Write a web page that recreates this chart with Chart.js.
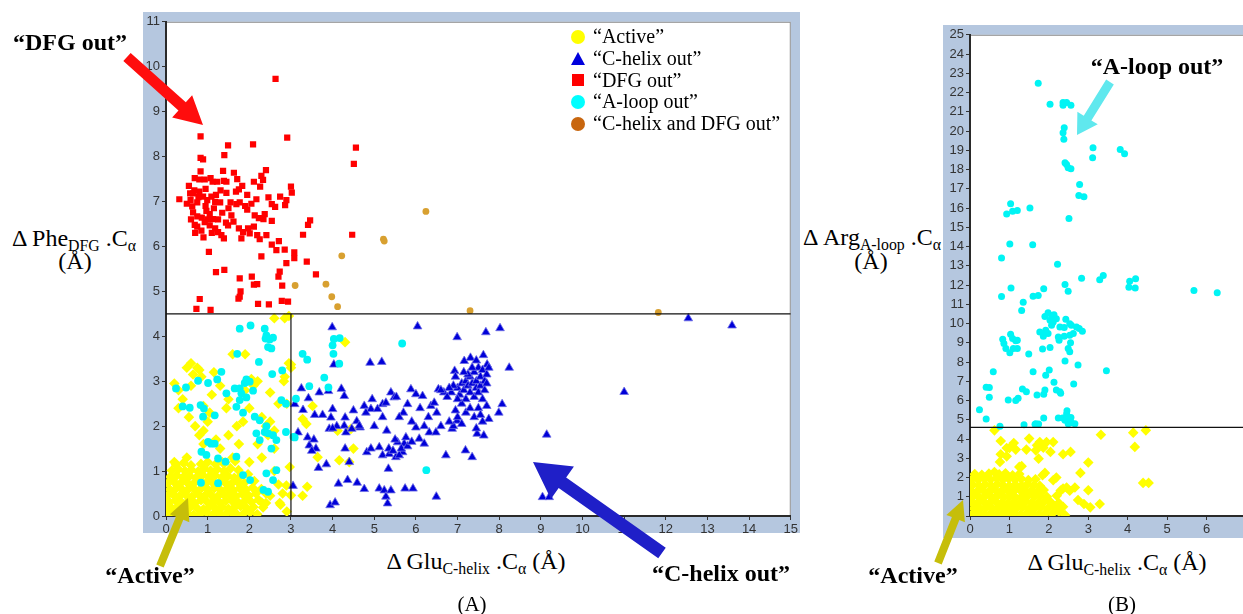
<!DOCTYPE html>
<html>
<head>
<meta charset="utf-8">
<script src="https://cdn.jsdelivr.net/npm/chart.js@4"></script>
<style>
html,body{margin:0;padding:0;background:#fff;}
body{width:1243px;height:614px;overflow:hidden;position:relative;font-family:"Liberation Serif","Times New Roman",serif;color:#000;}
.frame{position:absolute;background:#b5c7df;}
.frame canvas{position:absolute;left:0;top:0;}
.txt{position:absolute;white-space:nowrap;line-height:1;transform:translate(-50%,-50%);}
.ann{font-weight:bold;font-size:24px;}
.ttl{font-size:24px;}
.ttl sub{font-size:0.66em;vertical-align:-0.32em;line-height:0;}
.cap{font-size:21px;}
#legend{position:absolute;left:570px;top:26px;font-size:20px;}
#legend .row{height:21.7px;display:flex;align-items:center;}
#legend .mk{width:16px;height:16px;position:relative;margin-right:7px;}
#legend .mk i{position:absolute;display:block;}
#overlay{position:absolute;left:0;top:0;pointer-events:none;}
</style>
</head>
<body>

<div class="frame" id="frameA" style="left:143px;top:12px;width:657px;height:521px;">
  <canvas id="chartA" width="657" height="521"></canvas>
</div>
<div class="frame" id="frameB" style="left:943px;top:25px;width:310px;height:513px;">
  <canvas id="chartB" width="310" height="513"></canvas>
</div>

<div id="legend">
  <div class="row"><div class="mk"><i style="left:1px;top:1px;width:14px;height:14px;border-radius:50%;background:#ffff00"></i></div>“Active”</div>
  <div class="row"><div class="mk"><i style="left:1px;top:1px;width:0;height:0;border-left:7px solid transparent;border-right:7px solid transparent;border-bottom:13px solid #0000dd"></i></div>“C-helix out”</div>
  <div class="row"><div class="mk"><i style="left:2px;top:2px;width:12px;height:12px;background:#ff0000"></i></div>“DFG out”</div>
  <div class="row"><div class="mk"><i style="left:1px;top:1px;width:14px;height:14px;border-radius:50%;background:#00ffff"></i></div>“A-loop out”</div>
  <div class="row"><div class="mk"><i style="left:1px;top:1px;width:14px;height:14px;border-radius:50%;background:#c8660f"></i></div>“C-helix and DFG out”</div>
</div>

<div class="txt ttl" style="left:74px;top:238px;">Δ Phe<sub>DFG</sub> .C<sub>α</sub></div>
<div class="txt ttl" style="left:75px;top:261px;">(Å)</div>
<div class="txt ttl" style="left:476px;top:561px;">Δ Glu<sub>C-helix</sub> .C<sub>α</sub> (Å)</div>
<div class="txt ttl" style="left:872px;top:237px;">Δ Arg<sub>A-loop</sub> .C<sub>α</sub></div>
<div class="txt ttl" style="left:871px;top:261px;">(Å)</div>
<div class="txt ttl" style="left:1117px;top:562px;">Δ Glu<sub>C-helix</sub> .C<sub>α</sub> (Å)</div>

<canvas id="overlay" width="1243" height="614"></canvas>

<div class="txt ann" style="left:70px;top:42px;">“DFG out”</div>
<div class="txt ann" style="left:150px;top:575px;">“Active”</div>
<div class="txt ann" style="left:721px;top:573px;">“C-helix out”</div>
<div class="txt ann" style="left:1157px;top:66px;">“A-loop out”</div>
<div class="txt ann" style="left:913px;top:575px;">“Active”</div>
<div class="txt cap" style="left:472px;top:604px;">(A)</div>
<div class="txt cap" style="left:1122px;top:604px;">(B)</div>

<script>
// ---- Panel A: ΔPhe(DFG).Cα vs ΔGlu(C-helix).Cα ----
const activeA = [
  [0.06,0.04],[0.21,0.07],[0.37,0.03],[0.52,0.06],[0.66,0.02],[0.83,0.05],[0.97,0.08],[1.12,0.03],[1.28,0.06],[1.43,0.04],[1.58,0.07],[1.71,0.03],[1.86,0.05],[2.02,0.08],[2.19,0.04],
  [0.02,0.19],[0.14,0.17],[0.29,0.21],[0.45,0.16],[0.59,0.20],[0.74,0.18],[0.90,0.15],[1.05,0.21],[1.19,0.17],[1.35,0.20],[1.50,0.16],[1.64,0.19],[1.79,0.22],[1.94,0.17],[2.10,0.20],[2.33,0.19],
  [0.08,0.31],[0.23,0.34],[0.38,0.30],[0.53,0.33],[0.69,0.29],[0.84,0.35],[0.99,0.31],[1.14,0.33],[1.29,0.30],[1.44,0.34],[1.60,0.32],[1.75,0.29],[1.90,0.34],[2.05,0.31],[2.22,0.36],[2.40,0.29],
  [0.03,0.45],[0.17,0.48],[0.32,0.44],[0.48,0.47],[0.62,0.43],[0.77,0.49],[0.93,0.45],[1.08,0.47],[1.23,0.43],[1.38,0.48],[1.54,0.46],[1.68,0.44],[1.83,0.49],[1.99,0.45],[2.16,0.50],[2.50,0.45],
  [0.09,0.59],[0.25,0.62],[0.40,0.58],[0.55,0.61],[0.71,0.57],[0.86,0.63],[1.01,0.59],[1.16,0.62],[1.31,0.58],[1.47,0.61],[1.62,0.57],[1.77,0.62],[1.92,0.59],[2.08,0.63],[2.29,0.60],
  [0.04,0.73],[0.19,0.76],[0.34,0.72],[0.50,0.75],[0.65,0.71],[0.80,0.77],[0.95,0.73],[1.10,0.76],[1.26,0.72],[1.41,0.75],[1.56,0.71],[1.72,0.76],[1.88,0.74],[2.12,0.78],
  [0.10,0.87],[0.26,0.90],[0.41,0.86],[0.57,0.89],[0.72,0.85],[0.88,0.91],[1.03,0.87],[1.18,0.90],[1.34,0.86],[1.49,0.89],[1.64,0.85],[1.80,0.90],[1.97,0.93],
  [0.14,1.01],[0.30,1.04],[0.46,1.00],[0.61,1.03],[0.77,0.99],[0.92,1.05],[1.07,1.01],[1.23,1.04],[1.39,1.00],[1.55,1.06],[1.74,1.02],
  [0.24,1.14],[0.42,1.18],[0.60,1.13],[0.84,1.16],[1.00,1.20],[1.19,1.15],[1.42,1.19],[1.66,1.22],
  [0.20,2.95],[0.30,2.80],[0.50,3.30],[0.60,3.40],[0.65,3.15],[0.75,3.30],[0.80,3.25],[0.85,3.10],[0.60,2.90],[0.40,2.60],[0.30,2.40],[0.55,2.20],
  [0.70,2.00],[0.90,1.90],[1.00,2.10],[1.05,2.30],[1.10,2.70],[1.15,3.20],[1.30,2.90],[1.45,2.40],[1.50,2.60],[1.60,3.60],[1.20,1.70],[0.90,1.60],
  [0.80,1.80],[1.30,1.50],[1.50,1.80],[1.60,1.30],[1.75,1.60],[1.85,2.10],[2.00,2.40],[2.10,2.90],[2.20,3.00],[2.30,2.20],[2.40,2.00],[2.45,1.80],
  [2.50,2.10],[2.20,1.60],[2.00,1.20],[2.30,1.30],[2.60,1.50],[2.60,1.00],[2.70,0.70],[2.40,0.50],[2.30,0.30],[2.80,0.50],[2.90,0.10],[2.75,0.25],
  [2.60,1.90],[2.70,2.50],[2.90,2.50],[2.85,3.10],[2.95,3.40],[3.00,3.30],[1.90,3.60],[2.60,4.40],[2.85,4.40],[2.95,4.45],[0.90,2.45],[1.90,2.80],
  [2.05,3.05],[2.50,2.75],[1.70,2.00],[1.35,1.20],[0.50,1.30],[0.20,1.20],[2.83,3.00],[3.52,2.45],[3.28,2.16],[3.37,2.05],[4.12,1.90],[4.44,1.94],
  [3.64,1.31],[4.16,1.24],[4.40,1.20],[4.50,1.50],[2.97,1.09],[2.89,0.68],[3.00,0.46],[3.28,0.45],[3.39,0.65],[2.73,0.29],[4.30,3.87],[3.00,3.37]
];
const chelixOutA = [
  [3.99,4.20],[6.04,4.22],[8.02,4.18],[6.99,3.98],[7.68,4.09],[4.03,3.37],[4.90,3.41],[5.18,3.43],[6.93,3.23],[7.16,3.45],[7.31,3.52],[7.45,3.46],[7.62,3.58],[7.71,3.37],[8.24,3.30],
  [3.25,2.84],[3.42,2.62],[3.68,2.75],[3.90,2.78],[4.21,2.83],[4.28,2.67],
  [3.09,2.49],[3.29,2.36],[3.57,2.25],[3.76,2.25],[3.96,2.19],[4.00,2.38],[4.30,2.19],[4.58,2.11],[4.66,1.97],[4.76,2.45],[4.92,2.38],[5.08,2.38],[5.20,2.49],[5.28,2.52],[5.40,2.75],
  [5.48,2.64],[5.53,2.65],[5.80,2.49],[5.88,2.82],[6.00,2.71],[6.16,2.67],[6.36,2.45],[6.44,2.52],[6.54,2.82],[6.67,2.75],
  [3.17,1.86],[3.40,1.75],[3.44,1.57],[3.66,1.07],[3.92,1.94],[4.28,2.01],[4.32,1.86],[4.46,1.94],[4.64,2.01],[4.82,1.42],[4.92,1.50],[5.12,1.53],[5.20,1.35],[5.36,1.38],
  [5.52,1.31],[5.56,1.64],[5.68,1.42],[5.72,1.61],[5.76,1.75],[6.00,1.97],[6.08,1.72],[6.20,1.61],[6.32,1.86],[6.48,1.86],[6.72,1.35],[6.87,1.94],[6.99,2.12],[7.19,1.46],
  [7.35,1.31],[7.47,1.83],[7.63,1.79],[7.75,2.16],[7.99,2.30],[8.07,2.49],
  [3.05,0.67],[4.14,0.72],[4.36,0.80],[4.59,0.74],[4.76,0.60],[5.12,0.61],[5.24,0.57],[5.28,0.43],[5.32,0.28],[5.40,0.57],[5.74,0.61],[5.93,0.61],[6.49,0.43],[3.94,0.24],[4.06,0.30],[5.34,1.05],
  [9.14,1.81],[9.04,0.42],[9.20,0.42],[11.00,2.76],[12.54,4.40],[13.59,4.24],
  [7.00,2.85],[7.05,2.70],[7.10,2.95],[7.15,2.80],[7.20,3.00],[7.20,2.60],[7.25,2.90],[7.30,3.10],[7.30,2.75],[7.35,2.95],[7.40,3.20],[7.40,2.65],[7.45,3.00],[7.45,2.85],
  [7.50,3.30],[7.50,2.75],[7.55,3.10],[7.55,2.90],[7.60,3.25],[7.60,2.60],[7.65,3.00],[7.65,2.80],[7.70,3.15],[7.70,2.95],[7.75,3.30],[7.35,3.30],[7.25,3.15],[6.90,2.90],
  [6.85,2.75],[6.80,2.85],[7.10,2.50],[7.20,2.30],[7.30,2.40],[7.00,2.20],[6.95,2.35],[7.40,2.20],[7.50,2.40],[7.60,2.10],[7.10,2.05],[6.90,2.00],[7.45,1.95],[7.55,2.25],
  [7.70,2.45],[7.00,2.60],[6.75,2.65],[6.60,2.80],[6.95,3.10],[7.15,3.20],
  [3.55,1.70],[3.60,1.50],[3.50,1.45],[4.10,2.00],[4.50,2.35],[4.80,2.30],[5.00,2.00],[5.30,1.90],[5.50,1.70],[5.70,2.30],[5.90,2.10],[6.10,2.40],[6.30,2.20],[6.50,2.30],
  [6.60,2.00],[6.80,2.10],[5.20,2.20],[4.95,2.60],[5.60,2.20],[6.20,2.00],[5.35,1.50],[5.45,1.45],[5.60,1.35],[5.65,1.50],[5.80,1.55],[5.90,1.65],[4.30,1.50],[3.85,1.15],
  [4.00,1.95],[4.40,1.20]
];
const dfgOutA = [
  [2.63,9.73],[0.83,8.45],[2.91,8.42],[1.49,8.25],[2.09,8.27],[1.40,8.03],[0.83,7.97],[0.89,7.94],[4.56,8.20],[4.51,7.84],[0.83,7.67],[1.37,7.68],[1.63,7.64],[2.40,7.70],
  [2.29,7.57],[2.33,7.48],[2.11,7.44],[2.26,7.33],[3.00,7.33],[3.02,7.20],[1.83,7.35],[1.75,7.27],[1.68,7.22],[1.45,7.19],[1.31,7.25],[1.12,7.44],[1.23,7.44],[0.69,7.52],
  [0.80,7.49],[0.93,7.49],[1.07,7.52],[1.39,7.46],[1.45,7.44],[1.71,7.50],[0.68,7.25],[0.80,7.22],[0.65,7.18],[0.32,7.05],[0.59,7.03],[0.75,6.98],[0.63,6.89],[0.89,7.11],
  [0.99,7.03],[1.09,7.11],[1.18,6.99],[1.30,6.98],[1.55,6.98],[1.69,6.94],[1.77,6.98],[1.90,6.90],[1.95,6.82],[2.17,7.05],[2.46,7.09],[2.74,7.11],[2.89,7.03],[2.86,6.92],
  [2.54,6.94],[2.62,6.88],[0.65,6.76],[0.75,6.67],[0.86,6.64],[0.69,6.48],[0.75,6.44],[0.97,6.79],[1.05,6.72],[1.13,6.61],[0.93,6.54],[1.05,6.47],[1.18,6.40],[1.25,6.32],
  [1.33,6.25],[1.39,6.18],[1.44,6.53],[1.49,6.47],[1.57,6.69],[1.75,6.40],[1.85,6.32],[1.97,6.40],[1.81,6.18],[2.01,6.29],[2.11,6.44],[2.19,6.25],[2.25,6.16],[2.13,6.69],
  [2.23,6.63],[2.37,6.72],[2.34,6.61],[2.54,6.57],[2.41,6.25],[2.54,6.04],[2.71,6.12],[2.65,5.92],[2.85,5.93],[2.29,5.78],[3.08,5.87],[3.08,5.74],[2.89,5.63],[3.38,5.66],
  [3.29,6.26],[3.41,6.48],[3.46,6.58],[3.60,5.38],[4.47,6.26],[2.73,5.44],[2.70,5.33],[2.79,5.13],[1.03,5.88],[1.20,5.43],[1.40,5.48],[1.77,5.29],[2.06,5.33],[2.11,5.15],
  [2.19,5.16],[1.79,5.00],[1.77,4.88],[1.74,4.84],[0.81,4.83],[0.73,4.61],[1.07,4.59],[2.21,4.72],[2.47,4.71],[2.78,4.79],[2.93,4.77],
  [0.55,7.35],[0.60,6.60],[0.70,6.30],[0.85,6.35],[0.95,6.90],[1.15,6.85],[1.20,7.15],[1.00,6.60],[0.78,7.10],[1.35,6.75],[1.50,6.85],[1.62,6.55],[1.10,6.30],[0.90,6.20],
  [1.25,6.60],[1.95,7.15],[2.05,6.95],[0.50,6.95],[0.58,7.18],[0.95,7.28]
];
const aloopOutA = [
  [2.03,4.24],[1.77,4.17],[2.37,4.17],[2.41,4.02],[2.39,3.95],[2.45,3.76],[2.53,3.73],[2.49,3.93],[2.57,3.97],[1.71,3.61],[2.23,3.43],[2.79,3.24],[2.55,3.16],[1.33,3.21],
  [1.23,3.04],[1.01,2.96],[0.77,3.01],[0.24,2.84],[0.48,2.86],[0.40,2.44],[0.57,2.41],[0.83,2.47],[0.89,2.21],[1.17,2.24],[0.91,2.39],[1.45,2.73],[1.65,2.84],[1.77,2.84],
  [1.81,2.73],[1.89,2.96],[1.93,3.04],[2.01,2.99],[2.09,2.79],[1.93,2.64],[1.77,2.58],[1.69,2.43],[1.85,2.30],[2.13,2.21],[2.25,2.13],[2.41,2.00],[2.37,1.87],[2.45,1.84],
  [2.57,1.80],[2.65,1.69],[2.53,1.50],[2.25,1.69],[2.17,1.84],[1.08,1.61],[1.17,1.61],[0.85,1.43],[0.97,1.36],[1.25,1.28],[1.43,1.21],[1.85,0.91],[2.02,0.80],[2.34,0.58],
  [2.45,0.54],[2.57,0.80],[2.65,1.02],[2.41,0.95],[1.25,0.73],[0.84,0.74],[1.69,1.32],[1.01,1.65],[2.77,2.58],[2.88,2.50],[2.88,1.87],[3.06,1.76],[3.12,2.61],[3.28,3.61],
  [3.39,3.48],[3.80,3.08],[3.90,2.86],[4.00,3.80],[4.02,3.61],[4.03,3.94],[4.17,3.96],[4.16,3.39],[5.67,3.84],[6.25,1.02],[3.44,2.89],[3.09,1.75]
];
const chelixDfgOutA = [
  [3.10,5.13],[3.84,5.16],[3.98,4.88],[4.12,4.66],[4.22,5.79],[5.22,6.16],[5.24,6.12],[6.24,6.78],[7.30,4.57],[11.82,4.53]
];
const cutPheA = 4.5;   // ΔPhe threshold (horizontal rule)
const cutGluA = 3;     // ΔGlu threshold (vertical rule below the ΔPhe cut)
const xTicksA = {min: 0, max: 15, step: 1};
const yTicksA = {min: 0, max: 11, step: 1};

// ---- Panel B: ΔArg(A-loop).Cα vs ΔGlu(C-helix).Cα ----
const activeB = [
  [0.05,0.10],[0.20,0.14],[0.36,0.08],[0.51,0.12],[0.66,0.06],[0.82,0.13],[0.97,0.09],[1.12,0.15],[1.28,0.07],[1.43,0.11],[1.58,0.14],[1.74,0.08],[1.90,0.12],[2.08,0.10],
  [0.10,0.42],[0.26,0.38],[0.41,0.45],[0.57,0.39],[0.72,0.43],[0.88,0.37],[1.03,0.44],[1.18,0.40],[1.34,0.46],[1.49,0.38],[1.65,0.42],[1.80,0.45],[1.97,0.39],[2.15,0.44],
  [0.04,0.72],[0.19,0.68],[0.34,0.74],[0.50,0.69],[0.65,0.75],[0.81,0.70],[0.96,0.66],[1.11,0.73],[1.27,0.69],[1.42,0.76],[1.57,0.70],[1.73,0.67],[1.88,0.74],[2.05,0.71],[2.25,0.68],
  [0.08,1.02],[0.24,0.97],[0.39,1.04],[0.55,0.99],[0.70,1.05],[0.86,0.98],[1.01,1.03],[1.16,0.96],[1.32,1.02],[1.47,1.06],[1.63,0.99],[1.78,1.04],[1.95,1.00],[2.20,1.05],
  [0.03,1.31],[0.18,1.27],[0.33,1.34],[0.49,1.29],[0.64,1.35],[0.79,1.28],[0.95,1.33],[1.10,1.27],[1.26,1.36],[1.41,1.30],[1.56,1.33],[1.72,1.28],[1.87,1.35],[2.30,1.32],
  [0.07,1.62],[0.23,1.57],[0.38,1.64],[0.53,1.58],[0.69,1.65],[0.84,1.60],[1.00,1.56],[1.15,1.63],[1.31,1.58],[1.46,1.66],[1.62,1.60],[1.77,1.57],
  [0.05,1.92],[0.21,1.88],[0.36,1.95],[0.52,1.90],[0.67,1.96],[0.83,1.89],[0.98,1.94],[1.14,1.88],[1.30,1.93],[1.48,1.87],[1.66,1.91],
  [0.12,2.18],[0.30,2.14],[0.48,2.20],[0.62,2.28],[0.74,2.16],[0.90,2.22],[1.08,2.12],[1.25,2.18],
  [0.62,4.45],[0.78,3.90],[0.93,3.53],[1.00,3.53],[1.11,3.79],[1.16,3.45],[0.78,3.21],[0.93,3.10],[0.76,2.81],[1.50,4.02],[1.43,3.45],[1.70,3.67],[1.67,3.41],[1.77,3.84],
  [1.94,3.84],[2.11,3.84],[1.86,3.55],[2.04,3.33],[2.36,3.21],[2.55,3.33],[1.74,2.98],[1.25,2.55],[1.31,2.59],[1.90,2.24],[1.84,2.12],[2.19,2.00],[2.11,1.86],[2.80,2.24],
  [3.00,2.78],[3.32,4.22],[4.14,4.33],[4.18,3.59],[4.46,4.45],[4.39,1.72],[4.53,1.72],[2.36,1.43],[2.45,1.48],[2.53,1.31],[2.66,1.48],[2.74,0.83],[3.00,1.34],[2.89,0.62],
  [3.05,0.45],[3.29,0.62],[2.19,0.40],[2.26,0.22],[2.36,0.48],[2.41,0.05]
];
const aloopOutB = [
  [1.73,22.48],[2.03,21.39],[2.36,21.48],[2.45,21.48],[2.56,21.34],[2.36,21.34],[2.39,20.17],[2.36,19.91],[2.38,19.57],[3.12,19.13],[3.11,18.61],[3.81,19.04],[3.92,18.82],
  [2.41,18.35],[2.45,18.26],[2.49,18.09],[2.56,18.04],[2.78,17.22],[2.76,16.65],[2.89,16.58],[1.03,16.22],[0.93,15.69],[1.08,15.83],[1.20,15.87],[1.52,16.00],[2.51,15.45],
  [1.01,14.13],[1.59,14.09],[0.80,13.40],[2.22,13.08],[2.83,12.35],[3.29,12.27],[3.38,12.49],[4.05,12.20],[4.20,12.32],[4.03,11.89],[4.19,11.85],[5.68,11.72],[6.27,11.60],
  [2.41,12.03],[2.49,11.68],[1.04,11.84],[0.80,11.41],[1.87,11.80],[1.73,11.46],[1.60,11.42],[1.35,11.11],[1.31,10.68],
  [1.90,10.37],[1.98,10.56],[2.07,10.42],[2.13,10.46],[2.03,10.17],[2.11,10.08],[2.19,10.25],[2.07,9.91],[2.28,9.82],[2.39,9.79],[2.43,10.22],[2.53,9.99],[2.57,9.91],
  [2.70,9.82],[2.77,9.74],[2.85,9.60],[1.77,9.56],[1.92,9.65],[1.98,9.48],[1.86,9.34],[2.24,9.30],[2.26,9.13],[2.39,9.34],[2.53,9.39],[2.62,9.48],[2.55,9.00],[2.53,8.53],
  [2.49,8.70],[2.03,8.75],[1.84,8.67],
  [1.03,9.44],[0.83,9.18],[0.86,8.96],[1.08,9.22],[1.16,9.10],[1.20,9.13],[0.91,8.70],[1.01,8.48],[1.10,8.70],[1.20,8.70],
  [1.49,8.41],[2.41,8.05],[2.74,7.84],[3.46,7.55],[0.59,7.50],[1.60,7.50],[2.01,7.58],[1.92,7.31],[2.13,6.95],[2.63,6.86],[0.41,6.69],[0.49,6.67],[1.33,6.60],[1.43,6.46],
  [2.19,6.55],[2.28,6.46],[2.30,6.38],[1.90,6.55],[1.87,6.33],[1.70,6.29],[0.49,6.17],[0.97,6.03],[1.16,6.00],[1.22,6.12],[0.24,5.52],[0.41,5.04],[2.46,5.47],[2.24,5.09],
  [2.35,5.09],[2.41,4.97],[2.56,5.12],[2.49,4.79],[2.66,4.79],[1.87,5.09],[1.67,4.79],[1.74,4.78],[1.37,4.74],[0.76,4.66],[2.45,5.30],[2.53,5.08],[2.57,4.85],[1.65,4.77]
];
const cutArgB = 4.6;   // ΔArg threshold (horizontal rule)
const xTicksB = {min: 0, max: 7, step: 1, shown: [0, 1, 2, 3, 4, 5, 6]};
const yTicksB = {min: 0, max: 25, step: 1};

const toXY = arr => arr.map(p => ({x: p[0], y: p[1]}));

// white plotting area with a thin grey outline; canvas itself stays transparent
const plotBg = {
  id: 'plotBg',
  beforeDraw(chart) {
    const {ctx, chartArea: a} = chart;
    ctx.save();
    ctx.fillStyle = '#ffffff';
    ctx.fillRect(a.left, a.top, a.right - a.left, a.bottom - a.top);
    ctx.strokeStyle = '#8f8f8f';
    ctx.lineWidth = 1;
    ctx.strokeRect(a.left + 0.5, a.top + 0.5, a.right - a.left - 1, a.bottom - a.top - 1);
    ctx.restore();
  }
};

const tickFont = {family: '"Liberation Sans", Arial, sans-serif', size: 13};

function axis(t, fitKey, fitVal, cb) {
  return {
    type: 'linear', min: t.min, max: t.max,
    afterFit(s) { s[fitKey] = fitVal; },
    ticks: {stepSize: t.step, color: '#333', font: tickFont, padding: 2, maxRotation: 0, autoSkip: false,
            callback: cb || (v => v)},
    grid: {drawOnChartArea: false, drawTicks: true, tickLength: 4, color: '#333', tickWidth: 1},
    border: {color: '#2a2a2a', width: 2}
  };
}

function pointSet(data, style, radius, color, order, border) {
  return {
    data: toXY(data), pointStyle: style, pointRadius: radius, pointHoverRadius: radius,
    backgroundColor: color, borderColor: border || color, borderWidth: border ? 0.8 : 0,
    showLine: false, order: order
  };
}

function rule(points) {
  return {data: toXY(points), showLine: true, pointRadius: 0, borderColor: '#111', borderWidth: 1.2,
          backgroundColor: '#111', order: 0, fill: false, tension: 0};
}

const common = {
  responsive: false, animation: false, events: [],
  plugins: {legend: {display: false}, tooltip: {enabled: false}}
};

new Chart(document.getElementById('chartA'), {
  type: 'scatter',
  data: {datasets: [
    pointSet(activeA, 'rectRot', 5.3, '#ffff00', 5),
    pointSet(chelixOutA, 'triangle', 5, '#0000d8', 4, '#6f6fe6'),
    pointSet(dfgOutA, 'rect', 4.4, '#ff0000', 3),
    pointSet(aloopOutA, 'circle', 3.9, '#00f4f4', 2),
    pointSet(chelixDfgOutA, 'circle', 3.4, '#d8a030', 1),
    rule([[xTicksA.min, cutPheA], [xTicksA.max, cutPheA]]),
    rule([[cutGluA, 0], [cutGluA, cutPheA]])
  ]},
  options: Object.assign({}, common, {
    layout: {padding: {left: 0, top: 6, right: 7, bottom: 0}},
    scales: {
      x: axis(xTicksA, 'height', 17),
      y: axis(yTicksA, 'width', 23)
    }
  }),
  plugins: [plotBg]
});

new Chart(document.getElementById('chartB'), {
  type: 'scatter',
  data: {datasets: [
    pointSet(activeB, 'rectRot', 5.3, '#ffff00', 5),
    pointSet(aloopOutB, 'circle', 3.5, '#00f4f4', 2),
    rule([[xTicksB.min, cutArgB], [xTicksB.max, cutArgB]])
  ]},
  options: Object.assign({}, common, {
    layout: {padding: {left: 0, top: 9, right: 7, bottom: 0}},
    scales: {
      x: axis(xTicksB, 'height', 22, v => xTicksB.shown.includes(v) ? v : ''),
      y: axis(yTicksB, 'width', 27)
    }
  }),
  plugins: [plotBg]
});

// ---- call-out arrows ----
const ov = document.getElementById('overlay').getContext('2d');
function arrow(x1, y1, x2, y2, shaft, headLen, headW, color) {
  const a = Math.atan2(y2 - y1, x2 - x1), L = Math.hypot(x2 - x1, y2 - y1);
  ov.save();
  ov.translate(x1, y1);
  ov.rotate(a);
  ov.beginPath();
  ov.moveTo(0, -shaft / 2);
  ov.lineTo(L - headLen, -shaft / 2);
  ov.lineTo(L - headLen, -headW / 2);
  ov.lineTo(L, 0);
  ov.lineTo(L - headLen, headW / 2);
  ov.lineTo(L - headLen, shaft / 2);
  ov.lineTo(0, shaft / 2);
  ov.closePath();
  ov.fillStyle = color;
  ov.fill();
  ov.restore();
}
arrow(127, 57, 203, 125, 11, 28, 30, '#ff0d0d');
arrow(160, 566, 188, 498, 8, 22, 21, '#c6be0a');
arrow(662, 553, 533, 462, 13, 36, 40, '#1f1fc8');
arrow(1110, 82, 1077, 135, 9, 20, 24, '#60e8ee');
arrow(938, 563, 963, 500, 8, 20, 20, '#c6be0a');
</script>
</body>
</html>
